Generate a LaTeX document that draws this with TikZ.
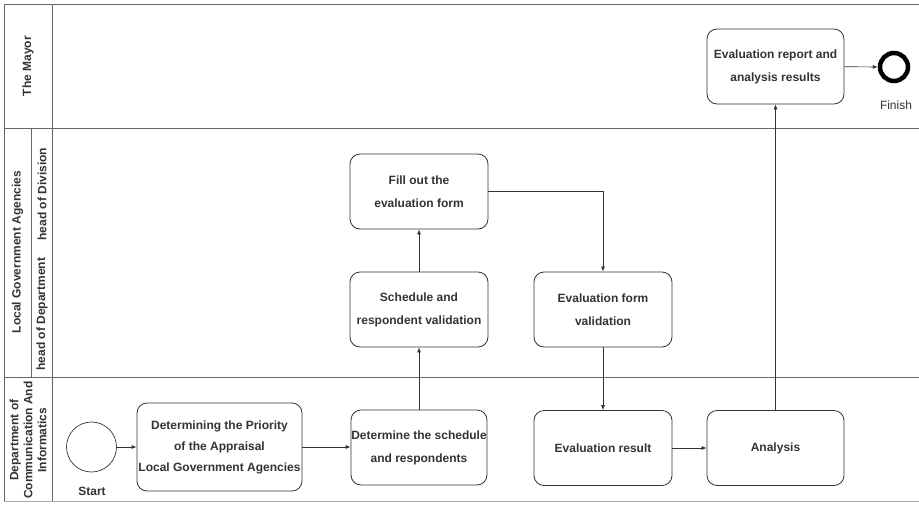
\documentclass[tikz,border=0pt]{standalone}
\usepackage{fontspec}
\setmainfont{Liberation Sans}
\usetikzlibrary{arrows.meta}
\definecolor{txt}{HTML}{333333}
\definecolor{lane}{HTML}{666666}
\definecolor{lanelight}{HTML}{AAAAAA}
\begin{document}
\begin{tikzpicture}[x=1pt,y=-1pt,
  task/.style={draw=txt, line width=0.8pt, rounded corners=10pt, minimum width=138pt, minimum height=75pt, align=center, font=\bfseries\fontsize{12}{23}\selectfont, text=txt, inner sep=0pt},
  flow/.style={draw=txt, line width=0.7pt, -{Latex[length=5pt,width=4pt]}},
  lanehd/.style={font=\bfseries\fontsize{12}{14}\selectfont, text=txt, rotate=90, align=center, inner sep=0pt},
  laneline/.style={draw=lane, line width=0.8pt}]
\useasboundingbox (0,0) rectangle (919,504);
% lanes
\draw[laneline] (4,4) -- (919,4);
\draw[laneline] (4,128) -- (919,128);
\draw[laneline] (4,377) -- (919,377);
\draw[laneline, draw=lanelight] (4,501) -- (919,501);
\draw[laneline] (4,4) -- (4,501);
\draw[laneline] (52,4) -- (52,501);
\draw[laneline] (31,128) -- (31,377);
% headers
\node[lanehd] (hm) at (28,66) {The Mayor};
\node[lanehd] (hl) at (17.5,252) {Local Government Agencies};
\node[lanehd] (hdep) at (42,314) {head of Department};
\node[lanehd] (hdiv) at (42,194) {head of Division};
\node[lanehd] (hd) at (28,440) {Department of\\Communication And\\Informatics};
% nodes
\node[circle, draw=txt, line width=0.7pt, minimum size=50pt, inner sep=0pt] (start) at (91.5,447) {};
\node[font=\bfseries\fontsize{12}{14}\selectfont, text=txt] (startl) at (92,491) {Start};
\node[task, minimum width=165pt, minimum height=88pt, font=\bfseries\fontsize{12}{21}\selectfont] (det) at (219.5,447) {Determining the Priority\\of the Appraisal\\Local Government Agencies};
\node[task, minimum width=136pt] (dsch) at (419,447.5) {Determine the schedule\\and respondents};
\node[task] (sval) at (419,309.5) {Schedule and\\respondent validation};
\node[task] (fill) at (419,191.5) {Fill out the\\evaluation form};
\node[task] (efv) at (603,309.5) {Evaluation form\\validation};
\node[task] (eres) at (603,448) {Evaluation result};
\node[task, minimum width=137pt] (ana) at (775.5,448) {Analysis};
\node[task, minimum width=137pt] (rep) at (775.5,66.5) {Evaluation report and\\analysis results};
\node[circle, draw=black, line width=4.5pt, minimum size=28pt, inner sep=0pt] (fin) at (894,67) {};
\node[font=\fontsize{12}{14}\selectfont, text=txt] (finl) at (896,105) {Finish};
% connectors
\draw[flow] (start) -- (det);
\draw[flow] (det.east) -- (det.east -| dsch.west);
\draw[flow] (dsch) -- (sval);
\draw[flow] (sval) -- (fill);
\draw[flow] (fill.east) -| (efv.north);
\draw[flow] (efv) -- (eres);
\draw[flow] (eres) -- (ana);
\draw[flow] (ana) -- (rep);
\draw[flow] (rep) -- (fin);
\end{tikzpicture}
\end{document}
